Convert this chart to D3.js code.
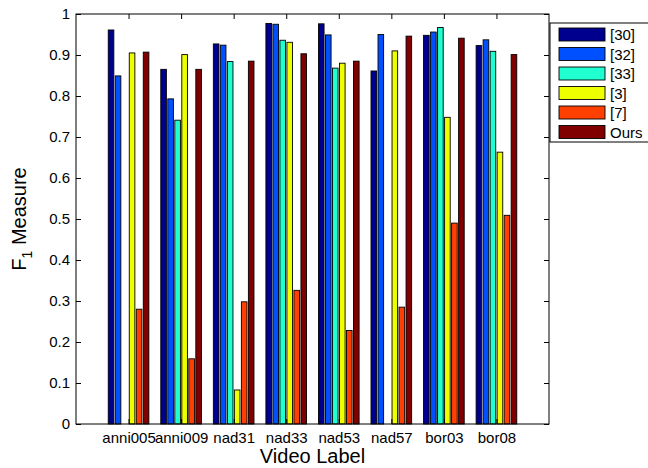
<!DOCTYPE html>
<html>
<head>
<meta charset="utf-8">
<script src="https://cdn.jsdelivr.net/npm/d3@7"></script>
<style>
  html, body { margin: 0; padding: 0; background: #fff; }
  svg { display: block; font-family: "Liberation Sans", Arial, sans-serif; }
</style>
</head>
<body>
<svg id="chart" width="648" height="468"></svg>
<script>
// Video sequences on the x axis
const categories = ["anni005", "anni009", "nad31", "nad33", "nad53", "nad57", "bor03", "bor08"];

// Methods compared (legend order)
const seriesNames = ["[30]", "[32]", "[33]", "[3]", "[7]", "Ours"];
const seriesColors = ["#00008f", "#0050ff", "#20ffd0", "#eeff00", "#ff4000", "#800000"];

// F1 measure per method, one value per video (null = no result)
const ref30 = [0.961, 0.865, 0.927, 0.977, 0.976, 0.861, 0.948, 0.923];
const ref32 = [0.849, 0.793, 0.924, 0.975, 0.949, 0.950, 0.956, 0.937];
const ref33 = [null,  0.741, 0.884, 0.936, 0.868, null,  0.967, 0.909];
const ref3  = [0.905, 0.901, 0.083, 0.931, 0.880, 0.910, 0.748, 0.663];
const ref7  = [0.280, 0.159, 0.298, 0.326, 0.228, 0.285, 0.490, 0.509];
const ours  = [0.907, 0.865, 0.885, 0.903, 0.885, 0.946, 0.941, 0.901];
const seriesValues = [ref30, ref32, ref33, ref3, ref7, ours];

const yTicks = [0, 0.1, 0.2, 0.3, 0.4, 0.5, 0.6, 0.7, 0.8, 0.9, 1];
const yTickLabels = ["0", "0.1", "0.2", "0.3", "0.4", "0.5", "0.6", "0.7", "0.8", "0.9", "1"];

const svg = d3.select("#chart");
const plot = { left: 76, right: 549, top: 14, bottom: 424 };

const x = d3.scalePoint().domain(categories).range([plot.left, plot.right]).padding(1);
const groupW = 0.8 * x.step();
const xSub = d3.scaleBand().domain(seriesNames)
  .range([-groupW / 2, groupW / 2]).paddingInner(0.2).paddingOuter(0.1);
const y = d3.scaleLinear().domain([0, 1]).range([plot.bottom, plot.top]);

// Bars
const bars = [];
seriesValues.forEach((vals, si) => {
  vals.forEach((v, ci) => {
    if (v != null) bars.push({ s: seriesNames[si], c: categories[ci], v, color: seriesColors[si] });
  });
});
svg.append("g").selectAll("rect").data(bars).join("rect")
  .attr("x", d => x(d.c) + xSub(d.s))
  .attr("width", xSub.bandwidth())
  .attr("y", d => y(d.v))
  .attr("height", d => y(0) - y(d.v))
  .attr("fill", d => d.color)
  .attr("stroke", "#000")
  .attr("stroke-width", 0.9);

// Axes (ticks point inward, box on all four sides)
const fmt = (d, i) => yTickLabels[i];
const axL = svg.append("g").attr("transform", `translate(${plot.left},0)`)
  .call(d3.axisLeft(y).tickValues(yTicks).tickFormat(fmt).tickSizeInner(-5).tickSizeOuter(0).tickPadding(6));
const axR = svg.append("g").attr("transform", `translate(${plot.right},0)`)
  .call(d3.axisRight(y).tickValues(yTicks).tickFormat("").tickSizeInner(-5).tickSizeOuter(0));
const axB = svg.append("g").attr("transform", `translate(0,${plot.bottom})`)
  .call(d3.axisBottom(x).tickSizeInner(-5).tickSizeOuter(0).tickPadding(8));
const axT = svg.append("g").attr("transform", `translate(0,${plot.top})`)
  .call(d3.axisTop(x).tickFormat("").tickSizeInner(-5).tickSizeOuter(0));

[axL, axR, axB, axT].forEach(a => {
  a.select(".domain").remove();
  a.selectAll("line").attr("stroke", "#000");
  a.selectAll("text").attr("font-size", 15).attr("fill", "#000")
    .attr("font-family", "'Liberation Sans', Arial, sans-serif");
});

svg.append("rect")
  .attr("x", plot.left).attr("y", plot.top)
  .attr("width", plot.right - plot.left).attr("height", plot.bottom - plot.top)
  .attr("fill", "none").attr("stroke", "#000").attr("stroke-width", 1);

// Axis titles
svg.append("text")
  .attr("x", (plot.left + plot.right) / 2).attr("y", 463)
  .attr("text-anchor", "middle").attr("font-size", 20)
  .text("Video Label");

const yt = svg.append("text")
  .attr("transform", `translate(26,${(plot.top + plot.bottom) / 2}) rotate(-90)`)
  .attr("text-anchor", "middle").attr("font-size", 20);
yt.append("tspan").text("F");
yt.append("tspan").attr("font-size", 14).attr("dy", 6).text("1");
yt.append("tspan").attr("dy", -6).text(" Measure");

// Legend
const lg = svg.append("g");
lg.append("rect")
  .attr("x", 550).attr("y", 23).attr("width", 110).attr("height", 119)
  .attr("fill", "#fff").attr("stroke", "#000").attr("stroke-width", 1);
const item = lg.selectAll("g.item").data(seriesNames).join("g")
  .attr("class", "item")
  .attr("transform", (d, i) => `translate(0,${34.5 + i * 19.5})`);
item.append("rect")
  .attr("x", 559).attr("y", -6.5).attr("width", 46).attr("height", 13)
  .attr("fill", (d, i) => seriesColors[i])
  .attr("stroke", "#000").attr("stroke-width", 0.9);
item.append("text")
  .attr("x", 610).attr("y", 5.5).attr("font-size", 15)
  .text(d => d);
</script>
</body>
</html>
